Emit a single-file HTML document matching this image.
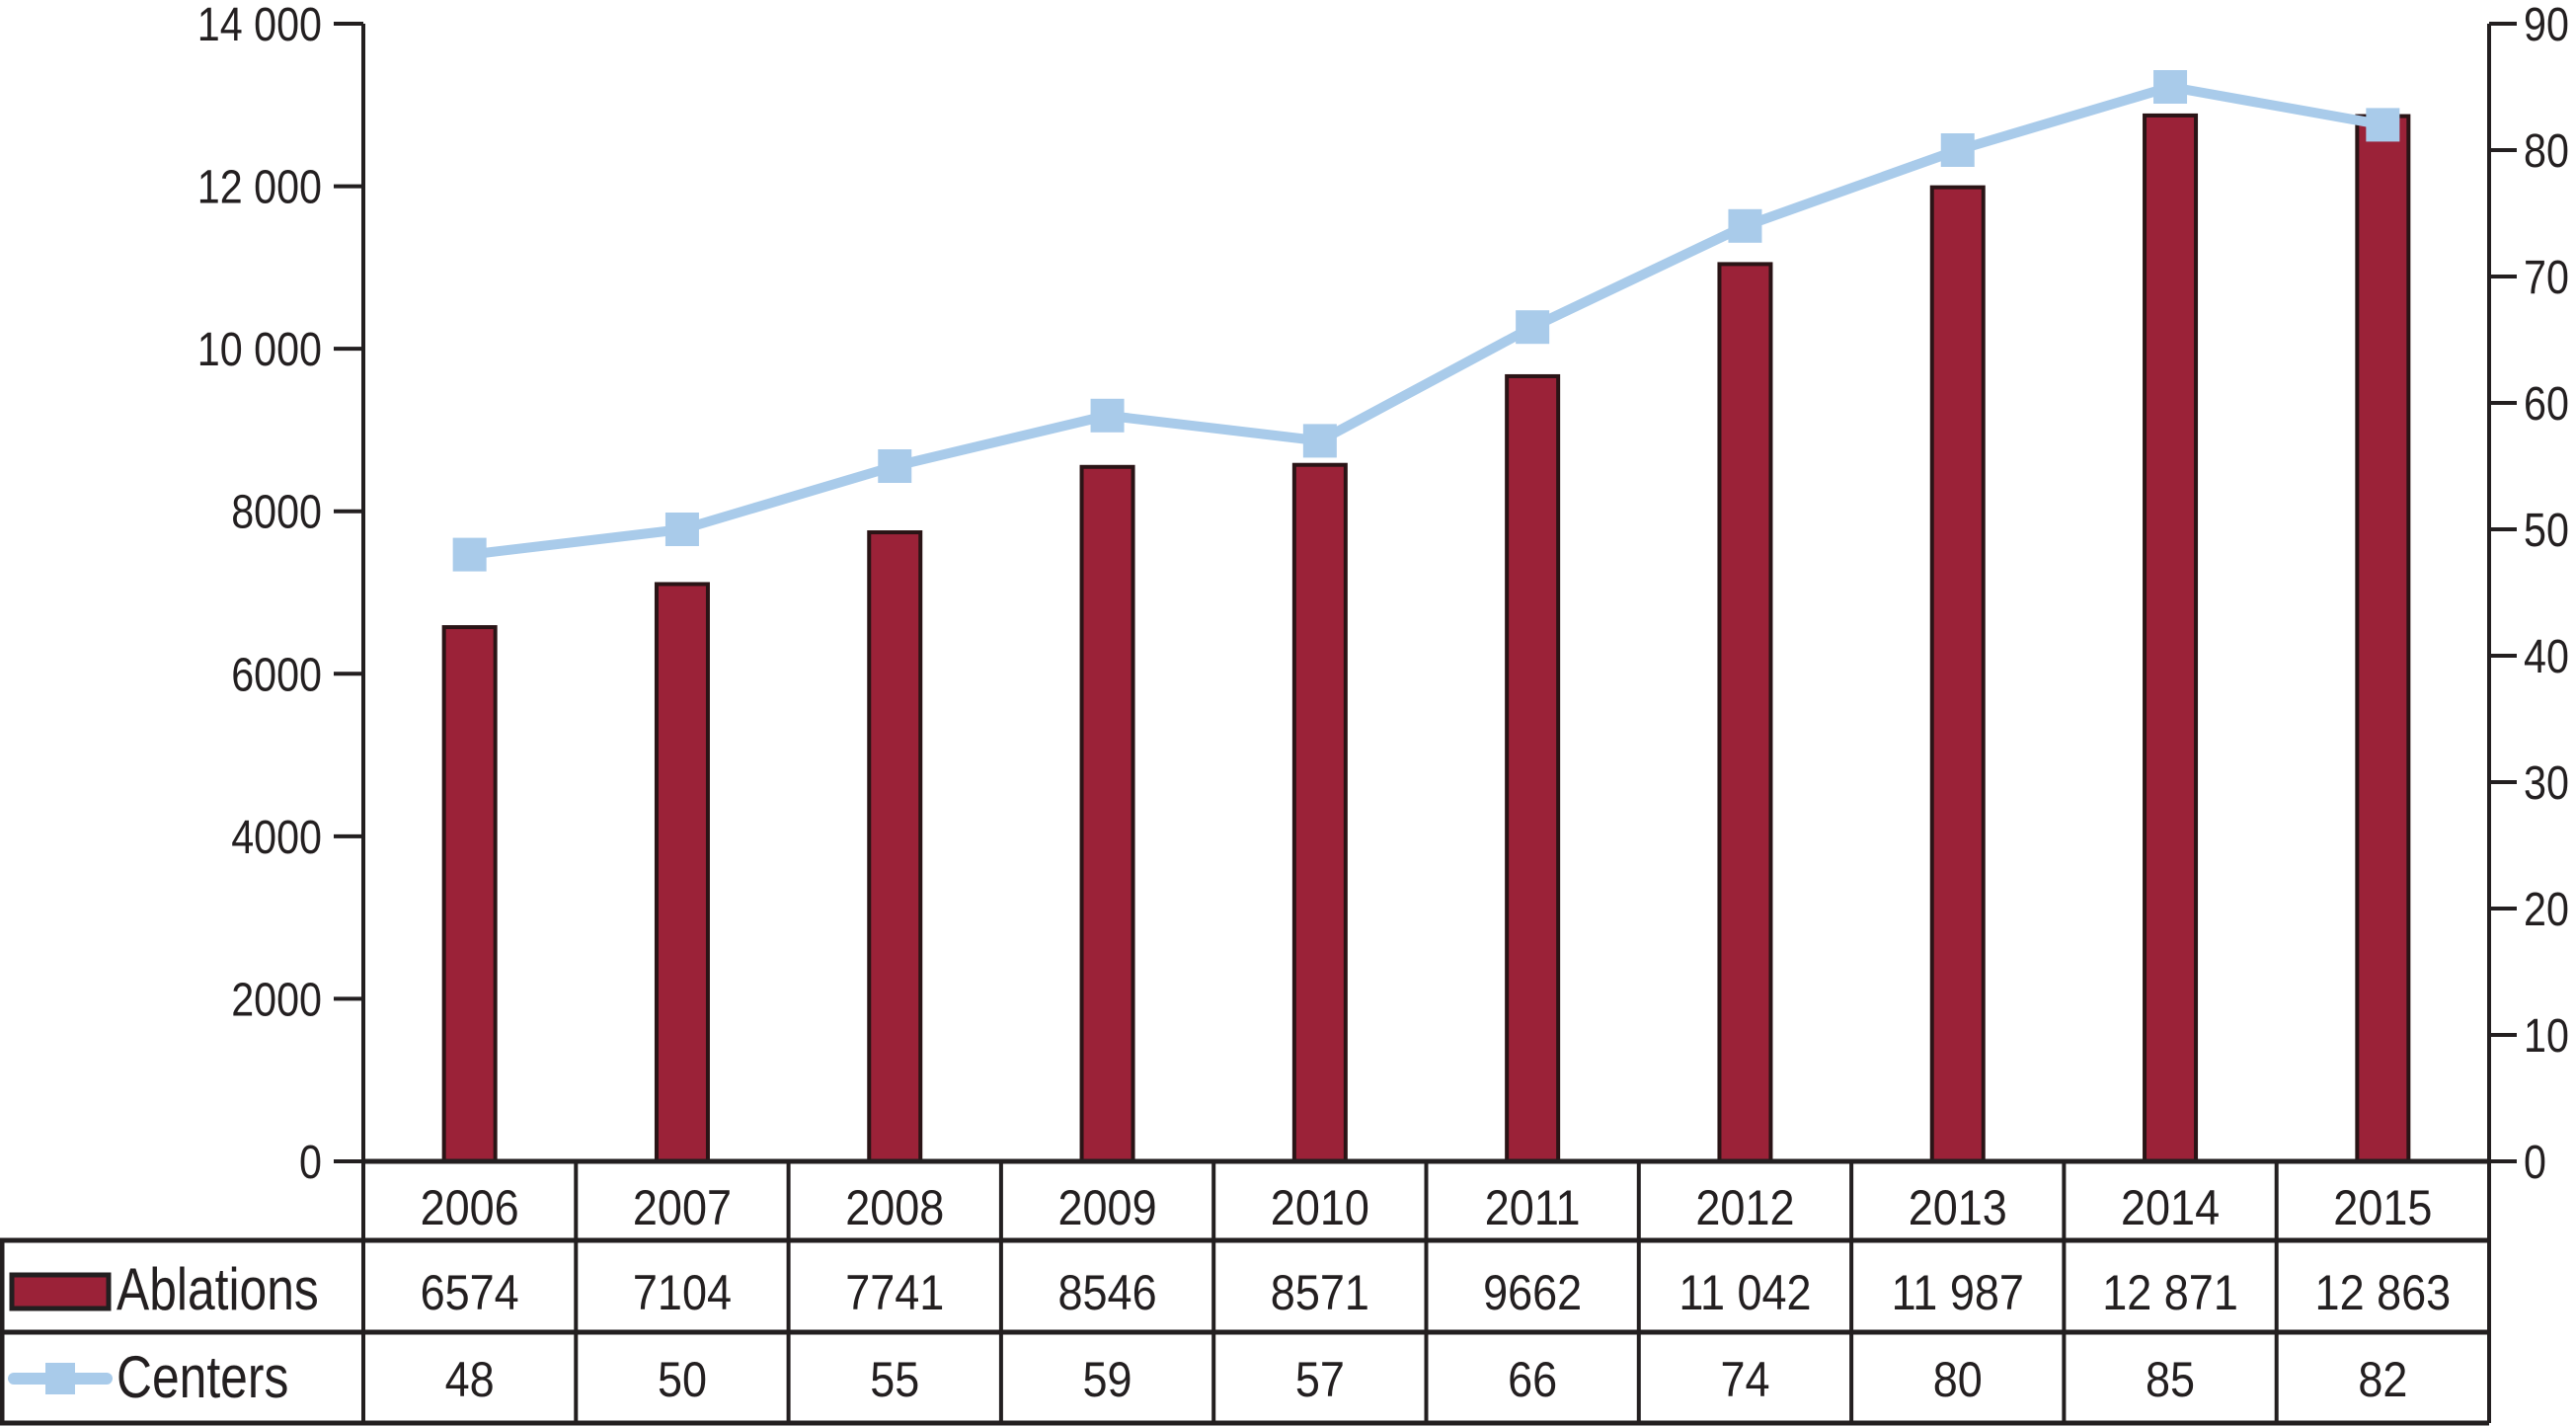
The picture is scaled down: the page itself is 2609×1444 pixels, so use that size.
<!DOCTYPE html>
<html><head><meta charset="utf-8"><style>
body{margin:0;background:#fff;}
svg{display:block;}
text{font-family:"Liberation Sans Narrow","Liberation Sans",sans-serif;fill:#231f20;}
</style></head><body>
<svg id="chart" width="2609" height="1444" viewBox="0 0 2609 1444" xmlns="http://www.w3.org/2000/svg"></svg>
<script>
const years=["2006","2007","2008","2009","2010","2011","2012","2013","2014","2015"];
const ablations=[6574,7104,7741,8546,8571,9662,11042,11987,12871,12863];
const centers=[48,50,55,59,57,66,74,80,85,82];
const ablationLabels=["6574","7104","7741","8546","8571","9662","11 042","11 987","12 871","12 863"];
const leftTicks=[0,2000,4000,6000,8000,10000,12000,14000];
const leftTickLabels=["0","2000","4000","6000","8000","10 000","12 000","14 000"];
const rightTicks=[0,10,20,30,40,50,60,70,80,90];

const NS="http://www.w3.org/2000/svg";
const svg=document.getElementById('chart');
const X0=368,X1=2521,Y0=1176,YT=24;
const colW=(X1-X0)/years.length;
const yL=v=>Y0-(v/14000)*(Y0-YT);
const yR=v=>Y0-(v/90)*(Y0-YT);
const xC=i=>X0+colW*(i+0.5);
function el(tag,attrs,parent){const e=document.createElementNS(NS,tag);for(const k in attrs)e.setAttribute(k,attrs[k]);(parent||svg).appendChild(e);return e;}
function txt(s,x,y,size,sx,anchor,parent){const t=el('text',{x:0,y:0,'font-size':size,'text-anchor':anchor||'start',transform:'translate('+x+','+y+') scale('+sx+',1)'},parent);t.textContent=s;return t;}

// bars
years.forEach((y,i)=>{
  const b=el('rect',{x:xC(i)-26,y:yL(ablations[i]),width:52,height:Y0-yL(ablations[i]),fill:'#9b2238',stroke:'#2a1416','stroke-width':4});
  
  
});
// axes
const la=el('line',{x1:X0,y1:YT,x2:X0,y2:Y0,stroke:'#231f20','stroke-width':4});

const ra=el('line',{x1:X1,y1:YT,x2:X1,y2:Y0,stroke:'#231f20','stroke-width':4});

leftTicks.forEach((v,i)=>{
  el('line',{x1:X0-30,y1:yL(v),x2:X0,y2:yL(v),stroke:'#231f20','stroke-width':4});
  const t=txt(leftTickLabels[i],326,yL(v)+17,48,0.86,'end');
  
});
rightTicks.forEach(v=>{
  el('line',{x1:X1,y1:yR(v),x2:X1+28,y2:yR(v),stroke:'#231f20','stroke-width':4});
  const t=txt(String(v),2556,yR(v)+17,48,0.86,'start');
  
});
// line
const pts=centers.map((v,i)=>xC(i)+','+yR(v)).join(' ');
const pl=el('polyline',{points:pts,fill:'none',stroke:'#a9cbea','stroke-width':10,'stroke-linejoin':'round'});

centers.forEach((v,i)=>{
  const m=el('rect',{x:xC(i)-17,y:yR(v)-17,width:34,height:34,fill:'#a9cbea'});
  
  
});
// table
const R0=Y0,R1=1256,R2=1349,R3=1441;
const g=el('g',{});

el('line',{x1:X0,y1:R0,x2:X1,y2:R0,stroke:'#231f20','stroke-width':5},g);
[R1,R2,R3].forEach(r=>el('line',{x1:0,y1:r,x2:X1,y2:r,stroke:'#231f20','stroke-width':5},g));
el('line',{x1:2,y1:R1,x2:2,y2:R3,stroke:'#231f20','stroke-width':5},g);
for(let i=0;i<=years.length;i++){el('line',{x1:X0+colW*i,y1:R0,x2:X0+colW*i,y2:R3,stroke:'#231f20','stroke-width':4},g);}
years.forEach((y,i)=>{
  const a=txt(y,xC(i),1240,50,0.9,'middle',g);
  
  const b=txt(ablationLabels[i],xC(i),1326,50,0.9,'middle',g);
  
  const c=txt(String(centers[i]),xC(i),1414,50,0.9,'middle',g);
  
});
// legend
const sw=el('rect',{x:12,y:1291,width:98,height:34,fill:'#9b2238',stroke:'#231f20','stroke-width':5},g);

const l1=txt('Ablations',118,1326,60,0.83,'start',g);

el('line',{x1:14,y1:1396,x2:108,y2:1396,stroke:'#a9cbea','stroke-width':12,'stroke-linecap':'round'},g);
const lm=el('rect',{x:46,y:1380,width:30,height:32,fill:'#a9cbea'},g);

const l2=txt('Centers',118,1415,60,0.83,'start',g);

</script>
</body></html>
